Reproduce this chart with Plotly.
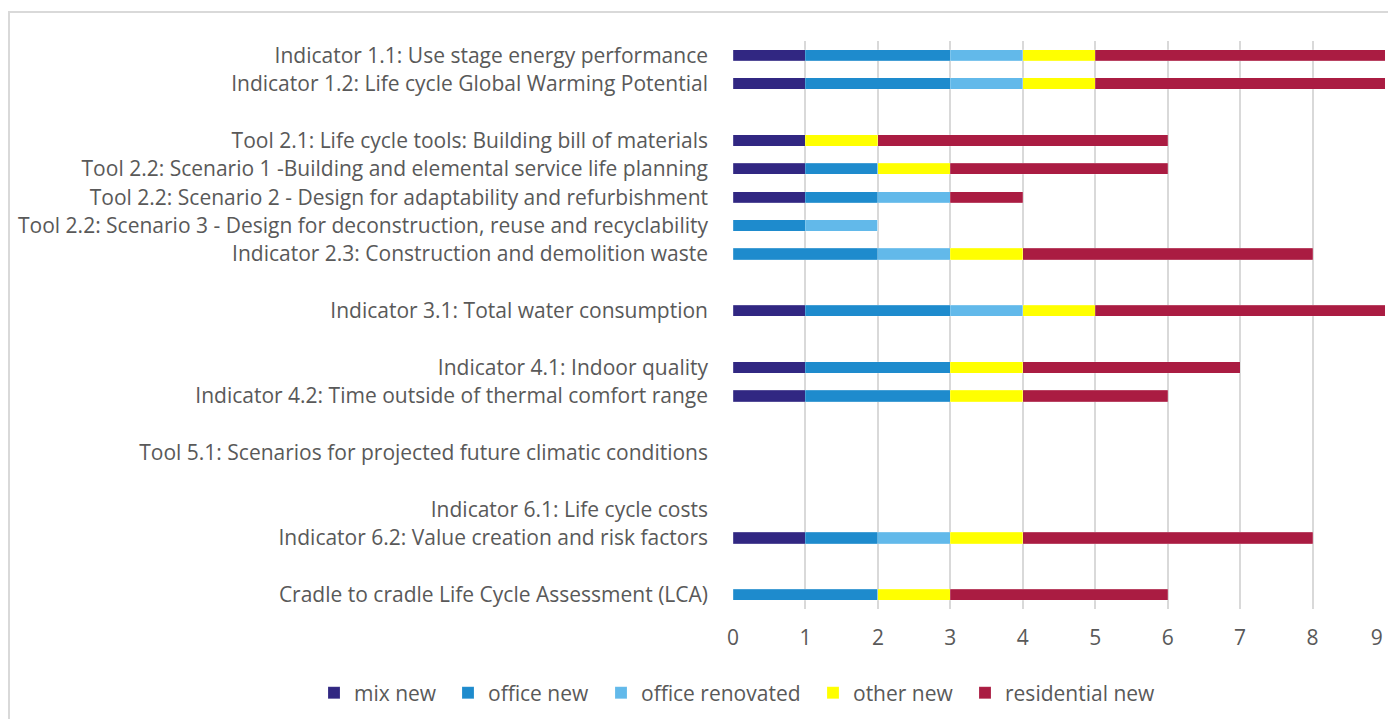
import plotly.graph_objects as go

categories = [
    "Indicator 1.1: Use stage energy performance",
    "Indicator 1.2: Life cycle Global Warming Potential",
    "",
    "Tool 2.1: Life cycle tools: Building bill of materials",
    "Tool 2.2: Scenario 1 -Building and elemental service life planning",
    "Tool 2.2: Scenario 2 - Design for adaptability and refurbishment",
    "Tool 2.2: Scenario 3 - Design for deconstruction, reuse and recyclability",
    "Indicator 2.3: Construction and demolition waste",
    "",
    "Indicator 3.1: Total water consumption",
    "",
    "Indicator 4.1: Indoor quality",
    "Indicator 4.2: Time outside of thermal comfort range",
    "",
    "Tool 5.1: Scenarios for projected future climatic conditions",
    "",
    "Indicator 6.1: Life cycle costs",
    "Indicator 6.2: Value creation and risk factors",
    "",
    "Cradle to cradle Life Cycle Assessment (LCA)",
]

mix_new =           [1, 1, 0, 1, 1, 1, 0, 0, 0, 1, 0, 1, 1, 0, 0, 0, 0, 1, 0, 0]
office_new =        [2, 2, 0, 0, 1, 1, 1, 2, 0, 2, 0, 2, 2, 0, 0, 0, 0, 1, 0, 2]
office_renovated =  [1, 1, 0, 0, 0, 1, 1, 1, 0, 1, 0, 0, 0, 0, 0, 0, 0, 1, 0, 0]
other_new =         [1, 1, 0, 1, 1, 0, 0, 1, 0, 1, 0, 1, 1, 0, 0, 0, 0, 1, 0, 1]
residential_new =   [4, 4, 0, 4, 3, 1, 0, 4, 0, 4, 0, 3, 2, 0, 0, 0, 0, 4, 0, 3]

x_ticks = [0, 1, 2, 3, 4, 5, 6, 7, 8, 9]
x_tick_labels = ["0", "1", "2", "3", "4", "5", "6", "7", "8", "9"]

series_names = ["mix new", "office new", "office renovated", "other new", "residential new"]
series_values = [mix_new, office_new, office_renovated, other_new, residential_new]
series_colors = ["#312782", "#1E8BCD", "#62B9EA", "#FFFF00", "#AA1C42"]

# page body has an 8px margin, so figure coords = page coords - 8
OFF = 8
legend_text_x = [354, 488, 641, 853, 1005]   # page pixel where each legend label starts
ypos = list(range(len(categories)))

FONT = "'Open Sans', sans-serif"
TXT = "#595959"
FS = 21
W, H = 1396 - OFF, 727 - 2 * OFF
plot_left, plot_right, plot_top, plot_bottom = 733 - OFF, 1385 - OFF, 41 - OFF, 609 - OFF
pw, ph = plot_right - plot_left, plot_bottom - plot_top

# last tick label kept inside the chart area (as Excel does): pad with non-breaking spaces
tick_text = x_tick_labels[:-1] + [x_tick_labels[-1] + "\u00a0\u00a0\u00a0"]

fig = go.Figure()
legend_layouts = {}
for i, (name, vals, color) in enumerate(zip(series_names, series_values, series_colors)):
    lg = "legend" if i == 0 else f"legend{i + 1}"
    fig.add_trace(go.Bar(
        y=ypos, x=vals, name=name, orientation="h",
        marker=dict(color=color, line=dict(color="rgba(255,255,255,0.35)", width=0.5)),
        width=0.4, legend=lg,
    ))
    legend_layouts[lg] = dict(
        orientation="h", xref="container", yref="container",
        x=(legend_text_x[i] - OFF - 40) / W, xanchor="left",
        y=1 - (693 - OFF) / H, yanchor="middle",
        font=dict(family=FONT, size=FS, color=TXT), itemwidth=30,
        bgcolor="rgba(0,0,0,0)", borderwidth=0,
    )

fig.update_layout(
    width=W, height=H,
    barmode="stack",
    plot_bgcolor="white", paper_bgcolor="white",
    margin=dict(l=plot_left, r=W - plot_right, t=plot_top, b=H - plot_bottom, pad=0, autoexpand=False),
    font=dict(family=FONT, color=TXT, size=FS),
    showlegend=True,
    shapes=[dict(type="rect", xref="paper", yref="paper",
                 x0=(1 - plot_left) / pw, x1=1.2,
                 y0=-0.3, y1=(plot_bottom - 4) / ph,
                 line=dict(color="#D9D9D9", width=2), layer="below")],
    **legend_layouts,
)
fig.update_xaxes(
    range=[0, 9], tickvals=x_ticks, ticktext=tick_text,
    showgrid=True, gridcolor="#D9D9D9", gridwidth=1.5,
    zeroline=False, showline=False, ticks="", ticklabelstandoff=14, automargin=False,
    ticklabeloverflow="allow",
    tickfont=dict(family=FONT, size=FS, color=TXT), fixedrange=True,
)
fig.update_yaxes(
    range=[len(categories) - 0.5, -0.5], tickvals=ypos, ticktext=categories,
    showgrid=False, zeroline=False, showline=False, ticks="", ticklabelstandoff=24,
    automargin=False,
    tickfont=dict(family=FONT, size=FS, color=TXT), fixedrange=True,
)

fig.write_html("out.html")
